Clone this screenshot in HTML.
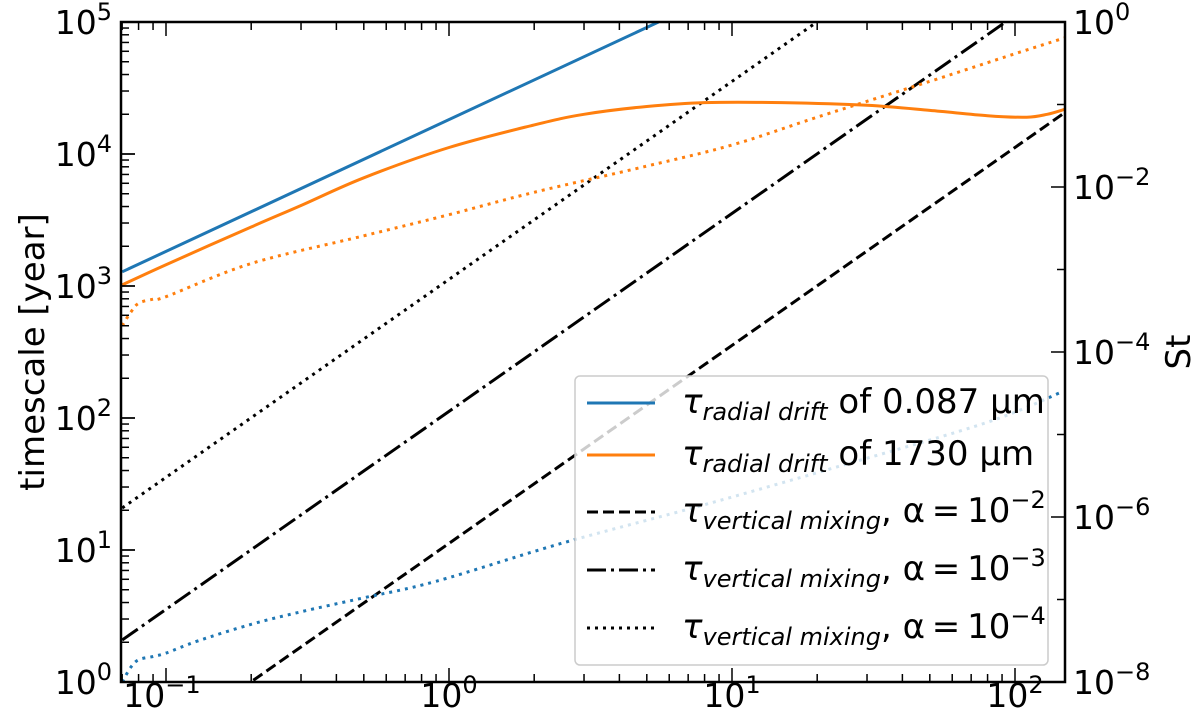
<!DOCTYPE html>
<html><head><meta charset="utf-8"><style>
html,body{margin:0;padding:0;background:#fff;overflow:hidden;width:1200px;height:721px;}
svg{display:block;font-family:"DejaVu Sans","Liberation Sans",sans-serif;overflow:hidden;}
</style></head><body>
<svg id="chart" width="1200" height="721" viewBox="0 0 1200 721" xmlns="http://www.w3.org/2000/svg">
<defs><clipPath id="plotclip"><rect x="121" y="22" width="944" height="660"/></clipPath></defs>
<g id="plot" clip-path="url(#plotclip)"></g>
<g id="axes"></g>
<g id="legend"></g>
</svg>
<script>
// ---- data ----
const blueSolidR = [0.07, 5.5];
const blueSolidTau = [1280, 100000];
const orangeSolidR = [0.07, 0.1, 0.2, 0.3, 0.5, 1, 2, 3, 5, 8, 15, 30, 50, 80, 110, 130, 150];
const orangeSolidTau = [1020, 1450, 2800, 4070, 6600, 11200, 16600, 20000, 22900, 24500, 24500, 23400, 21400, 19500, 19000, 20000, 21800];
const orangeDotR = [0.07, 0.075, 0.08, 0.09, 0.1, 0.2, 0.5, 1, 2, 5, 10, 20, 50, 100, 150];
const orangeDotTau = [500, 630, 740, 795, 830, 1480, 2400, 3470, 5130, 8100, 11700, 19000, 35500, 57500, 75900];
const blueDotR = [0.07, 0.075, 0.08, 0.09, 0.1, 0.13, 0.2, 0.3, 0.5, 0.9, 2.5, 8, 26, 80, 147];
const blueDotSt = [1e-8, 1.5e-8, 1.86e-8, 2.04e-8, 2.24e-8, 3.16e-8, 5e-8, 7.1e-8, 1.05e-7, 1.66e-7, 4.8e-7, 1.41e-6, 4.47e-6, 1.41e-5, 3.3e-5];
const mixR = [0.07, 150];
const mixTau2 = [0.208, 20600];
const mixTau3 = [2.08, 206000];
const mixTau4 = [20.8, 2060000];
const xTickExp = [-1, 0, 1, 2];
const yLeftExp = [0, 1, 2, 3, 4, 5];
const yRightExp = [0, -2, -4, -6, -8];

// ---- axes functions ----
const L=121, R=1065, T=22, B=682;
const x = r => 449 + 283*Math.log10(r);
const yL = v => B - (B-T)/5*Math.log10(v);
const yR = v => T - (B-T)/8*Math.log10(v);
const NS="http://www.w3.org/2000/svg";
function mk(tag, attrs, parent){const e=document.createElementNS(NS,tag);for(const k in attrs)e.setAttribute(k,attrs[k]);parent.appendChild(e);return e;}
const plot=document.getElementById('plot'), axes=document.getElementById('axes'), leg=document.getElementById('legend');

function line(rs, vs, yf, color, dash, name){
  const pts = rs.map((r,i)=>[x(r), yf(vs[i])]);
  let d='M'+pts[0][0].toFixed(1)+','+pts[0][1].toFixed(1);
  if(pts.length<3){ d+=' L'+pts[1][0].toFixed(1)+','+pts[1][1].toFixed(1); }
  else {
    for(let i=0;i<pts.length-1;i++){
      const p0=pts[Math.max(i-1,0)], p1=pts[i], p2=pts[i+1], p3=pts[Math.min(i+2,pts.length-1)];
      const c1=[p1[0]+(p2[0]-p0[0])/6, p1[1]+(p2[1]-p0[1])/6];
      const c2=[p2[0]-(p3[0]-p1[0])/6, p2[1]-(p3[1]-p1[1])/6];
      d+=' C'+c1[0].toFixed(1)+','+c1[1].toFixed(1)+' '+c2[0].toFixed(1)+','+c2[1].toFixed(1)+' '+p2[0].toFixed(1)+','+p2[1].toFixed(1);
    }
  }
  const p = mk('path',{d:d,fill:'none',stroke:color,'stroke-width':3,'stroke-dasharray':dash||'none','stroke-linejoin':'round'},plot);
  
  
}
const BLUE='#1f77b4', ORANGE='#ff7f0e';
line(mixR, mixTau2, yL, '#000', '11,5', 'vertical-mixing-alpha-1e-2');
line(mixR, mixTau3, yL, '#000', '19,5,3,5', 'vertical-mixing-alpha-1e-3');
line(mixR, mixTau4, yL, '#000', '3,5', 'vertical-mixing-alpha-1e-4');
line(blueDotR, blueDotSt, yR, BLUE, '3,5', 'stokes-number-0.087um');
line(orangeDotR, orangeDotTau, yL, ORANGE, '3,5', 'stokes-number-1730um');
line(orangeSolidR, orangeSolidTau, yL, ORANGE, '', 'radial-drift-1730um');
line(blueSolidR, blueSolidTau, yL, BLUE, '', 'radial-drift-0.087um');

const fr = mk('rect',{x:L,y:T,width:R-L,height:B-T,fill:'none',stroke:'#000','stroke-width':2.5},axes);



function txt(parent, tx, ty, base, exp, anchor, name){
  const t = mk('text',{x:tx,y:ty,'font-size':33,'text-anchor':anchor,fill:'#000'},parent);
  
  
  const a=mk('tspan',{},t); a.textContent=base;
  const b=mk('tspan',{dy:-14,'font-size':24},t); b.textContent=exp;
  return t;
}
for(let d=-2; d<=2; d++){
  for(let m=1;m<10;m++){
    const v=m*Math.pow(10,d); const px=x(v);
    if(px<L||px>R) continue;
    const len = m===1?14:8;
    mk('line',{x1:px,y1:B,x2:px,y2:B-len,stroke:'#000','stroke-width':1.5},axes);
    mk('line',{x1:px,y1:T,x2:px,y2:T+len,stroke:'#000','stroke-width':1.5},axes);
  }
}
xTickExp.forEach(e=>{
  txt(axes, x(Math.pow(10,e))+(e<0?-4:0), 707, "10", e<0?"\u2212"+(-e):String(e), 'middle', 'x-tick-label');
});
for(let d=0; d<5; d++){
  for(let m=1;m<=10;m++){
    const py=yL(m*Math.pow(10,d));
    const len=(m===1||m===10)?14:8;
    mk('line',{x1:L,y1:py,x2:L+len,y2:py,stroke:'#000','stroke-width':1.5},axes);
  }
}
yLeftExp.forEach(e=>{ txt(axes, 112, yL(Math.pow(10,e))+12, "10", String(e), 'end', 'y-left-tick-label'); });
yRightExp.forEach(e=>{
  const py=yR(Math.pow(10,e));
  mk('line',{x1:R,y1:py,x2:R-14,y2:py,stroke:'#000','stroke-width':1.5},axes);
  txt(axes, 1073, py+12, "10", e<0?"\u2212"+(-e):String(e), 'start', 'y-right-tick-label');
});
[-1,-3,-5,-7].forEach(e=>{const py=yR(Math.pow(10,e));mk('line',{x1:R,y1:py,x2:R-8,y2:py,stroke:'#000','stroke-width':1.5},axes);});
const yt=mk('text',{x:0,y:0,'font-size':34,'text-anchor':'middle',transform:'translate(44,352) rotate(-90)'},axes);
yt.textContent='timescale [year]';


const yt2=mk('text',{x:0,y:0,'font-size':34,'text-anchor':'middle',transform:'translate(1190,352) rotate(-90)'},axes);
yt2.textContent='St';



const lb=mk('rect',{x:575,y:376,width:473,height:289,rx:5,fill:'#fff','fill-opacity':0.8,stroke:'#ccc','stroke-width':1.5},leg);


const entries=[
 {c:BLUE,d:'',sub:'radial drift',tail:' of 0.087 \u03bcm',exp:''},
 {c:ORANGE,d:'',sub:'radial drift',tail:' of 1730 \u03bcm',exp:''},
 {c:'#000',d:'11,5',sub:'vertical mixing',tail:', \u03b1\u2009=\u200910',exp:'\u22122'},
 {c:'#000',d:'19,5,3,5',sub:'vertical mixing',tail:', \u03b1\u2009=\u200910',exp:'\u22123'},
 {c:'#000',d:'3,5',sub:'vertical mixing',tail:', \u03b1\u2009=\u200910',exp:'\u22124'}];
const rowY=[403,455,512,570,628];
entries.forEach((en,i)=>{
  const g=mk('g',{},leg);
  
  
  mk('line',{x1:587,y1:rowY[i],x2:655,y2:rowY[i],stroke:en.c,'stroke-width':3,'stroke-dasharray':en.d||'none'},g);
  const t=mk('text',{x:682,y:rowY[i]+10,'font-size':34,fill:'#000'},g);
  const a=mk('tspan',{'font-style':'italic'},t);a.textContent='\u03c4';
  const s=mk('tspan',{'font-size':24,'font-style':'italic',dy:7},t);s.textContent=en.sub;
  const tl=mk('tspan',{dy:-7},t);tl.textContent=en.tail;
  if(en.exp){const e=mk('tspan',{dy:-14,'font-size':24},t);e.textContent=en.exp;}
});
</script>
</body></html>
